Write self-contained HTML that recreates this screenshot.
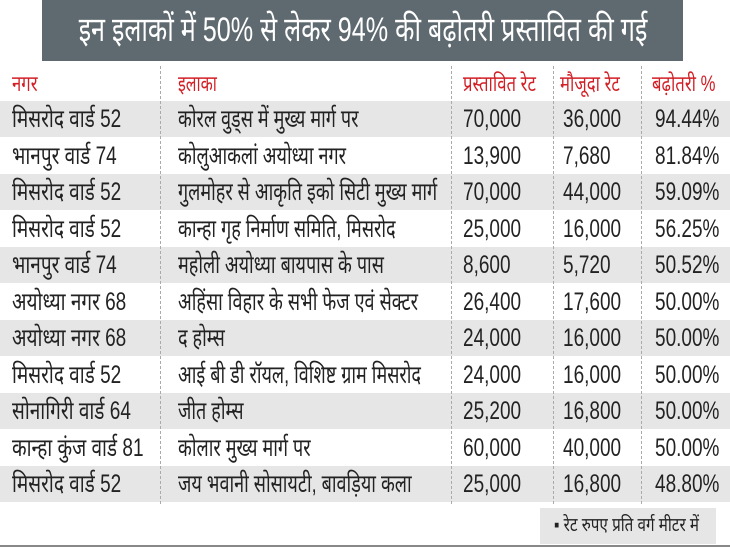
<!DOCTYPE html>
<html><head><meta charset="utf-8"><style>
html,body{margin:0;padding:0;background:#fff;}
body{width:730px;height:548px;position:relative;overflow:hidden;font-family:"Liberation Sans","Noto Sans CJK SC",sans-serif;}
.title{position:absolute;left:42px;top:0;width:641px;height:61px;background:#5e6a70;color:#fff;font-size:34px;line-height:61px;white-space:nowrap;overflow:hidden;}
.title span{position:absolute;left:50%;top:0;transform:translateX(-50%) scaleX(0.74);}
.row{position:absolute;left:0;width:730px;height:36px;}
.sh{background:#e6e6e6;}
.c{position:absolute;top:0;line-height:36px;font-size:25px;color:#222;white-space:nowrap;transform:scaleX(0.76);transform-origin:left center;}
.row .c:nth-child(2){transform:scaleX(0.72);}
.h .c{color:#d21f26;font-size:22px;}
.sep{position:absolute;top:66px;height:438px;border-left:1px dashed #aaa;}
.foot{position:absolute;left:540px;top:508px;width:176px;height:36px;background:#e6e6e6;font-size:19px;line-height:36px;color:#222;white-space:nowrap;}
.line{position:absolute;left:0;top:545px;width:730px;height:2px;background:#888;}
</style></head><body>
<div class="title"><span>इन इलाकों में 50% से लेकर 94% की बढ़ोतरी प्रस्तावित की गई</span></div>
<div class="row h" style="top:66px"><div class="c" style="left:12px">नगर</div><div class="c" style="left:178px">इलाका</div><div class="c" style="left:463px">प्रस्तावित रेट</div><div class="c" style="left:560px">मौजूदा रेट</div><div class="c" style="left:652px">बढ़ोतरी %</div></div>
<div class="row sh" style="top:101px"><div class="c" style="left:12px">मिसरोद वार्ड 52</div><div class="c" style="left:178px">कोरल वुड्स में मुख्य मार्ग पर</div><div class="c" style="left:463px">70,000</div><div class="c" style="left:563px">36,000</div><div class="c" style="left:655px">94.44%</div></div>
<div class="row" style="top:137.5px"><div class="c" style="left:12px">भानपुर वार्ड 74</div><div class="c" style="left:178px">कोलुआकलां अयोध्या नगर</div><div class="c" style="left:463px">13,900</div><div class="c" style="left:563px">7,680</div><div class="c" style="left:655px">81.84%</div></div>
<div class="row sh" style="top:174px"><div class="c" style="left:12px">मिसरोद वार्ड 52</div><div class="c" style="left:178px">गुलमोहर से आकृति इको सिटी मुख्य मार्ग</div><div class="c" style="left:463px">70,000</div><div class="c" style="left:563px">44,000</div><div class="c" style="left:655px">59.09%</div></div>
<div class="row" style="top:210.5px"><div class="c" style="left:12px">मिसरोद वार्ड 52</div><div class="c" style="left:178px">कान्हा गृह निर्माण समिति, मिसरोद</div><div class="c" style="left:463px">25,000</div><div class="c" style="left:563px">16,000</div><div class="c" style="left:655px">56.25%</div></div>
<div class="row sh" style="top:247px"><div class="c" style="left:12px">भानपुर वार्ड 74</div><div class="c" style="left:178px">महोली अयोध्या बायपास के पास</div><div class="c" style="left:463px">8,600</div><div class="c" style="left:563px">5,720</div><div class="c" style="left:655px">50.52%</div></div>
<div class="row" style="top:283.5px"><div class="c" style="left:12px">अयोध्या नगर 68</div><div class="c" style="left:178px">अहिंसा विहार के सभी फेज एवं सेक्टर</div><div class="c" style="left:463px">26,400</div><div class="c" style="left:563px">17,600</div><div class="c" style="left:655px">50.00%</div></div>
<div class="row sh" style="top:320px"><div class="c" style="left:12px">अयोध्या नगर 68</div><div class="c" style="left:178px">द होम्स</div><div class="c" style="left:463px">24,000</div><div class="c" style="left:563px">16,000</div><div class="c" style="left:655px">50.00%</div></div>
<div class="row" style="top:356.5px"><div class="c" style="left:12px">मिसरोद वार्ड 52</div><div class="c" style="left:178px">आई बी डी रॉयल, विशिष्ट ग्राम मिसरोद</div><div class="c" style="left:463px">24,000</div><div class="c" style="left:563px">16,000</div><div class="c" style="left:655px">50.00%</div></div>
<div class="row sh" style="top:393px"><div class="c" style="left:12px">सोनागिरी वार्ड 64</div><div class="c" style="left:178px">जीत होम्स</div><div class="c" style="left:463px">25,200</div><div class="c" style="left:563px">16,800</div><div class="c" style="left:655px">50.00%</div></div>
<div class="row" style="top:429.5px"><div class="c" style="left:12px">कान्हा कुंज वार्ड 81</div><div class="c" style="left:178px">कोलार मुख्य मार्ग पर</div><div class="c" style="left:463px">60,000</div><div class="c" style="left:563px">40,000</div><div class="c" style="left:655px">50.00%</div></div>
<div class="row sh" style="top:466px"><div class="c" style="left:12px">मिसरोद वार्ड 52</div><div class="c" style="left:178px">जय भवानी सोसायटी, बावड़िया कला</div><div class="c" style="left:463px">25,000</div><div class="c" style="left:563px">16,800</div><div class="c" style="left:655px">48.80%</div></div>
<div class="sep" style="left:160px"></div><div class="sep" style="left:451px"></div><div class="sep" style="left:553px"></div><div class="sep" style="left:641px"></div>
<div class="foot"><span style="display:inline-block;transform:scaleX(0.8);transform-origin:left center;margin-left:14px">▪ रेट रुपए प्रति वर्ग मीटर में</span></div>
<div class="line"></div>
</body></html>
